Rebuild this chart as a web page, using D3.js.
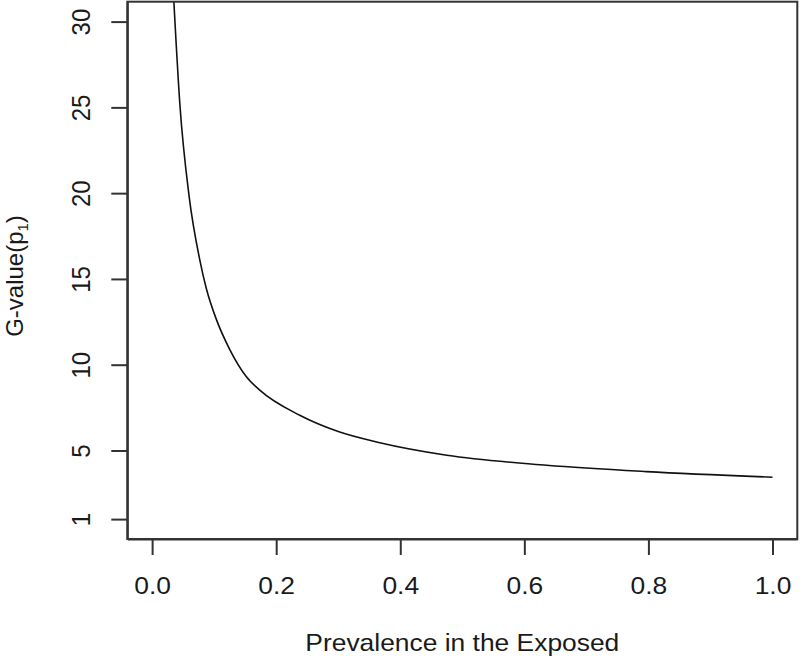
<!DOCTYPE html>
<html>
<head>
<meta charset="utf-8">
<script src="https://cdn.jsdelivr.net/npm/d3@7"></script>
<style>
  body { margin: 0; background: #fff; }
  svg text { font-family: "Liberation Sans", Arial, Helvetica, sans-serif; fill: #1a1a1a; }
</style>
</head>
<body>
<div id="container"></div>
<script>
// values: prevalence in the exposed vs G-value
var prevalence = [0.035, 0.0447, 0.0597, 0.0769, 0.0877, 0.104, 0.125, 0.152, 0.174, 0.238, 0.300, 0.367, 0.475, 0.636, 0.797, 1.000];
var gValue     = [31.2, 25.2, 19.8, 16.1, 14.4, 12.6, 10.9, 9.3, 8.5, 7.05, 6.1, 5.45, 4.72, 4.14, 3.77, 3.44];

var xTicks = [0, 0.2, 0.4, 0.6, 0.8, 1.0];
var yTicks = [1, 5, 10, 15, 20, 25, 30];

var width = 800, height = 659;
var box = {left: 127.3, top: 1.7, right: 797.3, bottom: 539};
// the picture is a little wider than tall, text too
var stretch = "scale(1.1,1)";

var svg = d3.select("#container").append("svg")
    .attr("width", width)
    .attr("height", height);

// R style: 4% padding around the data range
var xScale = d3.scaleLinear()
    .domain([-0.04, 1.04])
    .range([box.left, box.right]);

var yScale = d3.scaleLinear()
    .domain([-0.16, 31.16])
    .range([box.bottom, box.top]);

var data = prevalence.map(function(p, i) { return {p: p, g: gValue[i]}; });

svg.append("clipPath").attr("id", "plotclip")
  .append("rect")
    .attr("x", box.left).attr("y", box.top)
    .attr("width", box.right - box.left).attr("height", box.bottom - box.top);

var line = d3.line()
    .x(function(d) { return xScale(d.p); })
    .y(function(d) { return yScale(d.g); })
    .curve(d3.curveMonotoneX);

svg.append("path")
    .datum(data)
    .attr("clip-path", "url(#plotclip)")
    .attr("d", line)
    .attr("fill", "none")
    .attr("stroke", "#111")
    .attr("stroke-width", 1.6);

// x axis
var xAxis = d3.axisBottom(xScale)
    .tickValues(xTicks)
    .tickSize(16)
    .tickSizeOuter(0)
    .tickPadding(22)
    .tickFormat(d3.format(".1f"));

var gx = svg.append("g")
    .attr("transform", "translate(0," + box.bottom + ")")
    .call(xAxis);
gx.selectAll("text")
    .attr("transform", stretch)
    .style("font-size", "24px");

// y axis, labels rotated like R's las=0
var yAxis = d3.axisLeft(yScale)
    .tickValues(yTicks)
    .tickSize(16)
    .tickSizeOuter(0);

var gy = svg.append("g")
    .attr("transform", "translate(" + box.left + ",0)")
    .call(yAxis);
gy.selectAll("text")
    .attr("transform", stretch + " rotate(-90)")
    .attr("x", 0)
    .attr("y", -34)
    .attr("dy", 0)
    .attr("text-anchor", "middle")
    .style("font-size", "24px");

svg.selectAll(".domain").attr("stroke", "#333").attr("stroke-width", 2);
svg.selectAll(".tick line").attr("stroke", "#333").attr("stroke-width", 2);

// plot box
svg.append("rect")
    .attr("x", box.left).attr("y", box.top)
    .attr("width", box.right - box.left).attr("height", box.bottom - box.top)
    .attr("fill", "none")
    .attr("stroke", "#333")
    .attr("stroke-width", 2);

// axis titles
svg.append("text")
    .attr("transform", "translate(" + ((box.left + box.right) / 2) + ",651) " + stretch)
    .attr("text-anchor", "middle")
    .style("font-size", "24px")
    .text("Prevalence in the Exposed");

var ylab = svg.append("text")
    .attr("transform", "translate(23,276) rotate(-90)")
    .attr("text-anchor", "middle")
    .style("font-size", "24px");
ylab.append("tspan").text("G-value(p");
ylab.append("tspan").attr("dy", 5).style("font-size", "15px").text("1");
ylab.append("tspan").attr("dy", -5).text(")");
</script>
</body>
</html>
